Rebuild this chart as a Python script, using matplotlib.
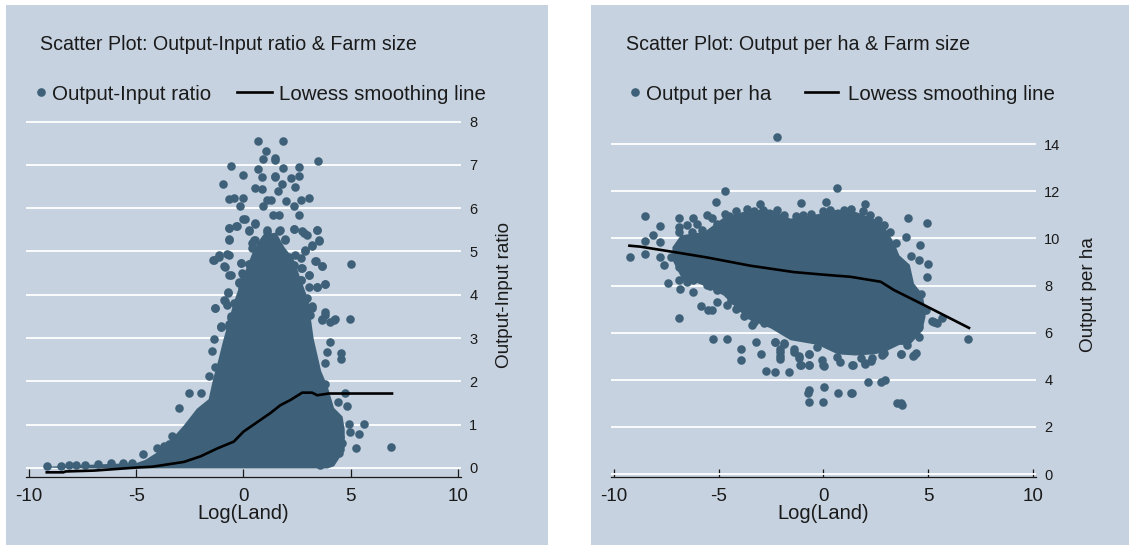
import matplotlib
matplotlib.use("Agg")
import matplotlib.pyplot as plt
from matplotlib.lines import Line2D
from matplotlib.patches import Rectangle

W, H = 1129, 546
BG = "#c6d2df"
DOT = "#3e6179"
INK = "#1a1a1a"

# ================= DATA =================
# The middle of each cloud is saturated, so single points cannot be read there.
# It is kept as an outline; everything around it is single points.

x_ticks = [-10, -5, 0, 5, 10]
x_tick_labels = ["-10", "-5", "0", "5", "10"]

# left panel
ratio_ticks = [0, 1, 2, 3, 4, 5, 6, 7, 8]

ratio_core_x = [-9.2, -7, -5, -4.6, -3.9, -3.3, -2.8, -2.2, -1.65, -1.45, -1.2, -1, -0.5, -0.15, 0.45, 0.9,
                1.5, 1.9, 2.3, 3, 3.25, 3.6, 3.9, 4.2, 4.6, 4.7]
ratio_core_top = [0.04, 0.09, 0.13, 0.2, 0.42, 0.72, 1.0, 1.38, 1.6, 2.05, 2.5, 2.9, 3.8, 4.3, 5.05, 5.4,
                  5.45, 5.1, 4.85, 3.9, 3.0, 2.25, 1.9, 1.4, 1.2, 0.9]
ratio_core_low = [0.02, 0, 0, 0, 0, 0, 0, 0, 0, 0, 0, 0, 0, 0, 0, 0,
                  0, 0, 0, 0, 0, 0, 0, 0.05, 0.35, 0.4]

ratio_x = [0.68, 1.03, 0.9, 1.49, -0.56, 0.66, 0.87, 1.49, 0, -0.95, 0.56, 0.87, 0, -0.46, -0.69, -0.14,
           1.1, 0.93, 1.26, 1.4, 0, 0.56, -0.33, -0.69, 0.24, -0.69, 1.1, 0.47, 0.4, -0.69, -1.16, -1.4,
           -0.1, 0.28, -0.89, -0.69, 0, 0.24, -0.22, -0.06, -0.71, -0.84, -1.35, -0.6, -1.07, -0.69,
           1.83, 3.48, 1.49, 1.83, 2.6, 1.49, 2.22, 2.61, 1.8, 1.6, 2.42, 3.04, 2.66, 1.99, 2.35, 2.57,
           1.65, 1.7, 2.35, 2.74, 2.97, 3.44, 3.5, 3.2, 1.96, 2.89, 3.4, 3.67, 5, 2.35, 2.66, 3.04,
           2.66, 3.8, 3.44, 2.89, 3.2, 3.82, 3.67, 4.26, 4.95, 3.1, 4.03, 4.03, 3.9, 4.57, 4.57, 3.82,
           3.82, 4.76, 4.4, 4.83, 4.94, 5.64, 4.96, 5.38, 4.52, 4.6, 5.27, 6.87, 4.45, 3.56,
           -9.18, -8.5, -8.14, -7.8, -7.4, -6.8, -6.2, -5.6, -5.2, -4.67, -4.02, -3.7, -3.48, -3.32,
           -3.0, -2.52, -2.0, -1.62, -1.34, -1.46, -1.38, -1.07,
           0.4, 0.56, 1.1, 1.68, 1.96, 2.35, 2.81, 3.43, 3.51, 3.2, 2.89, 2.42, 2.33, 2.74, 3.36, 3.67,
           3.04, 2.66, 3.43, 3.82, 3.04, 2.97, 3.2, 3.82, 3.67, 4.2,
           -1.15, -1.38, -0.76, -0.84, -0.6, -0.11, 0.28, -0.06, 0.22, -0.22, 0.02, -0.68, -0.71, -0.92,
           -0.76, -1.34, -0.45, -0.6, -0.68, -1.07, 0.25, 0.56, 0.06, -0.29, -0.68, 0.64, 0.71, 0.95,
           1.41, 1.72, 2.11, 2.66]
ratio_y = [7.55, 7.33, 7.14, 7.11, 6.98, 6.9, 6.73, 6.73, 6.76, 6.56, 6.47, 6.44, 6.24, 6.24, 6.22, 6.04,
           6.19, 6.04, 6.19, 5.84, 5.75, 5.63, 5.59, 5.55, 5.48, 5.27, 5.5, 5.27, 5.08, 4.92, 4.92, 4.8,
           4.73, 4.71, 4.66, 4.46, 4.46, 4.39, 4.27, 4.16, 4.04, 3.85, 3.69, 3.46, 3.26, 3.26,
           7.55, 7.09, 7.15, 6.92, 6.96, 6.74, 6.7, 6.74, 6.57, 6.4, 6.48, 6.24, 6.2, 6.17, 6.04, 5.84,
           5.84, 5.5, 5.53, 5.48, 5.38, 5.49, 5.25, 5.13, 5.27, 5, 4.77, 4.67, 4.72, 4.69, 4.63, 4.46,
           4.34, 4.25, 4.19, 3.88, 3.69, 3.6, 3.43, 3.44, 3.45, 3.53, 3.38, 2.92, 2.69, 2.65, 2.51, 2.42,
           1.95, 1.74, 1.53, 1.43, 1.02, 1.02, 0.82, 0.78, 0.72, 0.57, 0.46, 0.49, 0.34, 0.06,
           0.04, 0.05, 0.06, 0.07, 0.07, 0.1, 0.11, 0.12, 0.12, 0.32, 0.46, 0.5, 0.55, 0.75,
           1.38, 1.73, 1.73, 2.13, 2.33, 2.71, 2.99, 3.26,
           5.19, 5.27, 5.46, 5.48, 5.3, 5.51, 5.42, 5.5, 5.26, 5.15, 5.03, 4.92, 4.69, 4.61, 4.79, 4.67,
           4.46, 4.34, 4.19, 4.25, 4.18, 3.92, 3.73, 3.53, 3.42, 3.42,
           4.88, 4.8, 4.94, 4.65, 4.46, 4.74, 4.71, 4.5, 4.38, 4.3, 4.17, 5.28, 4.07, 3.88,
           3.77, 3.7, 3.8, 3.52, 3.32, 3.27, 5.5, 5.65, 5.75, 5.6, 5.55, 4.84, 5.07, 5.26,
           5.23, 5.03, 4.88, 4.85]

ratio_line_x = [-9.18, -8.4, -8.3, -6.97, -5, -4.25, -2.78, -2.0, -1.23, -0.45, 0, 1.26, 1.72, 2.19, 2.74,
                3.2, 3.44, 3.98, 6.93]
ratio_line_y = [-0.1, -0.1, -0.08, -0.06, 0.01, 0.03, 0.14, 0.27, 0.45, 0.61, 0.84, 1.27, 1.45, 1.57, 1.74,
                1.74, 1.68, 1.72, 1.72]

# right panel
output_ticks = [0, 2, 4, 6, 8, 10, 12, 14]

output_core_x = [-7.24, -6.84, -5.7, -4.8, -3.65, -2.54, -1.6, -0.3, 0.66, 1.5, 2.4, 2.9, 3.37, 3.6, 4.1, 4.3,
                 4.7, 4.85]
output_core_top = [9.65, 10.15, 10.3, 10.9, 11.2, 11.25, 10.86, 11.05, 11.25, 11.15, 10.85, 10.5, 9.8, 9.3, 8.9,
                   8.1, 7.66, 7.0]
output_core_low = [9.1, 8.4, 8.0, 7.6, 6.6, 6.2, 5.7, 5.5, 5.1, 5.05, 5.1, 5.2, 5.4, 5.5, 5.5, 5.7, 6.1, 6.7]

output_x = [-2.22, -4.72, 0.63, -5.12, -3.05, -1.07, 0.1, -8.52, -7.83, -8.15, -8.52, -7.83, -9.22, -8.52, -7.83,
            -7.6, -7.43, -6.92, -6.92, -6.92, -6.52, -6.22, -6.04, -5.56, -5.32, -4.69, -4.2, -3.65,
            -6.92, -6.52, -6.22, -6.84, -6.22, -6.92, -6.6, -7.3, -5.56, -5.84, -5.53, -5.32, -5.09, -4.61,
            -6.9, -3.41, -2.86, -5.28, -4.59, -3.94, -3.94, -3.21, -2.97, -2.34, -1.9, -2.1, -2.06, -1.39,
            -1.18, -1.1, -0.68, -0.68, -0.01, -2.74, -2.34, -1.63, -0.7, -0.75, 0.02, -0.67, -0.01, 0.68,
            1.29, 1.42, 1.37, 1.96, 2.29, 2.81, 3.68, 4.26, 4.4, 2.14, 2.73, 2.96, 3.53, 3.68, 3.76, 6.91,
            5.44, 5.2, 5.68, 4.88, 4.96, 5.0, 4.59, 3.96, 4.03, 4.94, 1.96, 2.89, 3.2, 3.44, 4.16, 4.56,
            4.64, 4.56,
            -2.3, -2.09, -2.06, -1.42, -1.18, -0.67, -0.67, -1.07, -1.9, -0.3, -0.06, 0.01, 0.65, 0.81, 1.37,
            1.77, 2.0, 2.33, 2.89, 3.68, 4.32, 4.0, 4.56, 4.46, 4.8, 5.26,
            -6.3, -5.8, -5.1, -4.5, -3.3, -2.9, -2.2, -1.9, -1.3, -1, -0.6, 0, 0.3, 1, 1.3, 1.9, 2.2, 2.6,
            -6.6, -6.2, -5.4, -5.1, -4.4, -4.2, -3.8, -3.3]
output_y = [14.32, 11.99, 12.13, 11.55, 11.46, 11.5, 11.56, 10.94, 10.53, 10.15, 9.91, 9.85, 9.23, 9.33, 9.19,
            8.86, 8.12, 10.86, 10.5, 10.25, 10.57, 10.86, 10.6, 11, 10.86, 11.03, 11.18, 11.25,
            8.24, 8.17, 8.24, 7.85, 7.71, 8.8, 8.8, 9.2, 8.03, 7.14, 6.94, 6.94, 7.28, 7.18,
            6.61, 6.33, 6.4, 5.72, 5.72, 5.32, 4.84, 5.62, 5.08, 5.62, 5.52, 5.19, 4.88, 5.19,
            4.91, 4.63, 5.1, 4.63, 4.63, 4.38, 4.33, 4.33, 3.57, 3.42, 3.71, 3.06, 3.06, 3.43,
            3.43, 4.63, 3.43, 4.66, 4.8, 5.05, 5.08, 5.0, 5.12, 3.9, 3.92, 3.99, 3.03, 3.0, 2.92, 5.72,
            6.4, 6.48, 6.6, 6.95, 8.38, 8.9, 9.71, 10.05, 10.86, 10.67, 11.46, 10.57, 10.28, 9.79, 9.27, 9.1,
            7.66, 6.25,
            5.62, 5.3, 5.0, 5.29, 5.0, 5.1, 4.63, 4.63, 5.55, 5.4, 4.84, 4.58, 4.98, 4.77, 4.63,
            4.91, 4.7, 4.91, 5.12, 5.09, 5.05, 5.47, 5.83, 6.4, 6.96, 6.47,
            10.25, 10.35, 10.6, 10.95, 11.15, 11.2, 11.2, 11.0, 10.95, 11.0, 11.05, 11.15, 11.2, 11.2, 11.25, 11.15, 11.0, 10.8,
            8.35, 8.3, 8.0, 7.8, 7.4, 7.0, 6.7, 6.45]

output_line_x = [-9.27, -8.76, -7, -5.56, -3.49, -1.42, 0, 1.29, 2.73, 3.36, 4.96, 6.95]
output_line_y = [9.69, 9.65, 9.4, 9.19, 8.84, 8.57, 8.46, 8.37, 8.16, 7.81, 7.1, 6.2]


# ================= HELPERS =================

def px_box(left, top, right, bottom):
    """Pixel box of the picture to figure fractions"""
    return [left / W, 1 - bottom / H, (right - left) / W, (bottom - top) / H]


def add_panel(fig, left, top, right, bottom):
    x0, y0, w, h = px_box(left, top, right, bottom)
    fig.add_artist(Rectangle((x0, y0), w, h, transform=fig.transFigure, facecolor=BG, edgecolor="none", zorder=-5))


def draw_scatter(ax, core_x, core_top, core_low, xs, ys, line_x, line_y, y_ticks, ylim, y_name, label_pos):
    ax.set_facecolor("none")
    ax.fill_between(core_x, core_low, core_top, color=DOT, linewidth=0, zorder=2)
    ax.scatter(xs, ys, s=38, color=DOT, linewidths=0, zorder=3)
    ax.plot(line_x, line_y, color="black", linewidth=1.9, zorder=4)

    ax.set_xlim(-10.15, 10.15)
    ax.set_ylim(*ylim)
    ax.set_xticks(x_ticks)
    ax.set_xticklabels(x_tick_labels, fontsize=13.5, color=INK)
    ax.set_yticks(y_ticks)
    ax.yaxis.tick_right()
    ax.tick_params(axis="x", direction="in", length=6, width=0.9, pad=8, color=INK)
    ax.tick_params(axis="y", length=0, pad=6, labelsize=10.5, labelcolor=INK)
    ax.grid(axis="y", color="white", linewidth=1.3, zorder=1)
    ax.set_axisbelow(True)

    for side in ["top", "left", "right"]:
        ax.spines[side].set_visible(False)
    ax.spines["bottom"].set_linewidth(0.9)
    ax.spines["bottom"].set_color(INK)

    ax.set_xlabel("Log(Land)", fontsize=14.5, color=INK, labelpad=-1)
    ax.yaxis.set_label_position("right")
    ax.set_ylabel(y_name, fontsize=13.6, color=INK)
    ax.yaxis.set_label_coords(*label_pos)


def add_legend(fig, name, mark_left, line_left, line_len, line_gap):
    dot = Line2D([], [], linestyle="none", marker="o", markersize=5.2, color=DOT, label=name)
    line = Line2D([], [], color="black", linewidth=1.9, label="Lowess smoothing line")
    fig.legend(handles=[dot], loc="center left", bbox_to_anchor=(mark_left / W, 1 - 94 / H), frameon=False,
               fontsize=14.8, labelcolor=INK, handlelength=0.4, handletextpad=0.33, borderaxespad=0, borderpad=0)
    fig.legend(handles=[line], loc="center left", bbox_to_anchor=(line_left / W, 1 - 94 / H), frameon=False,
               fontsize=14.8, labelcolor=INK, handlelength=line_len, handletextpad=line_gap, borderaxespad=0, borderpad=0)


# ================= MAIN =================

def main():
    plt.rcParams["font.family"] = ["Liberation Sans", "DejaVu Sans"]
    fig = plt.figure(figsize=(W / 100, H / 100), dpi=100, facecolor="white")

    add_panel(fig, 6, 5, 548, 545)
    add_panel(fig, 591, 5, 1129, 545)

    ax1 = fig.add_axes(px_box(26, 118, 461, 477))
    draw_scatter(ax1, ratio_core_x, ratio_core_top, ratio_core_low, ratio_x, ratio_y, ratio_line_x, ratio_line_y,
                 ratio_ticks, (-0.208, 8.083), "Output-Input ratio", (1.08, 0.507))
    add_legend(fig, "Output-Input ratio", 37, 237, 1.7, 0.33)

    ax2 = fig.add_axes(px_box(611, 130, 1036, 477))
    draw_scatter(ax2, output_core_x, output_core_top, output_core_low, output_x, output_y, output_line_x, output_line_y,
                 output_ticks, (-0.127, 14.6), "Output per ha", (1.104, 0.527))
    add_legend(fig, "Output per ha", 631, 805, 1.6, 0.5)

    fig.text(40 / W, 1 - 45 / H, "Scatter Plot: Output-Input ratio & Farm size", fontsize=14.1, color=INK, va="center")
    fig.text(626 / W, 1 - 45 / H, "Scatter Plot: Output per ha & Farm size", fontsize=14.1, color=INK, va="center")

    fig.savefig("out.png", dpi=100)


if __name__ == "__main__":
    main()
